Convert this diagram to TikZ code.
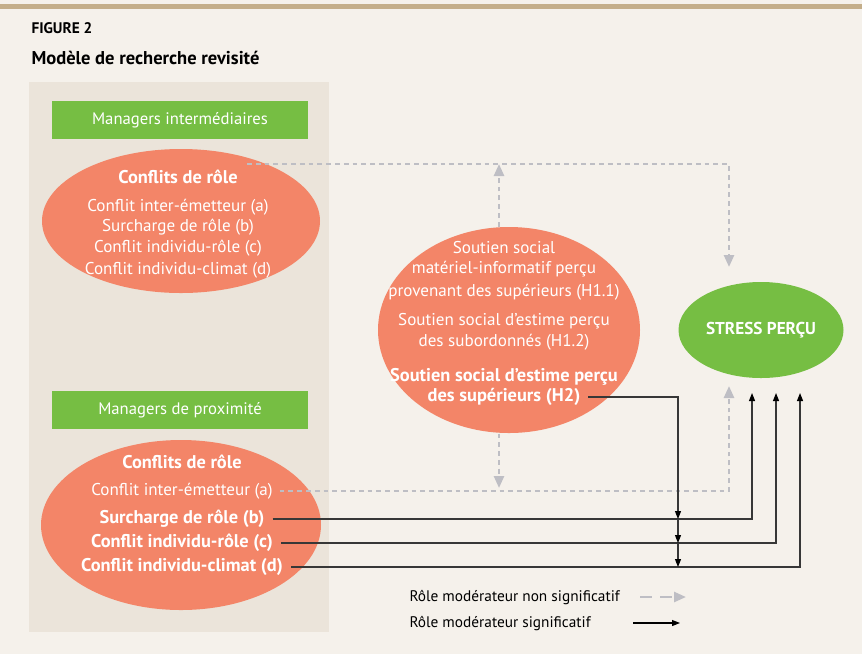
\documentclass[tikz,border=0pt]{standalone}
\usepackage{fontspec}
\setmainfont{PT Sans}
\usetikzlibrary{arrows.meta,shapes.geometric}

\definecolor{creambg}{RGB}{245,241,235}
\definecolor{panelbg}{RGB}{235,228,218}
\definecolor{topbar}{RGB}{196,174,138}
\definecolor{leafgreen}{RGB}{118,190,67}
\definecolor{salmon}{RGB}{243,133,104}
\definecolor{dashgray}{RGB}{190,190,196}
\definecolor{darkline}{RGB}{55,55,55}

\tikzset{every picture/.style={line width=0.75pt}}
\tikzset{
  txtw/.style={text=white, inner sep=0.75pt, font=\fontsize{12.8}{14}\selectfont},
  txtb/.style={text=white, inner sep=0.75pt, font=\fontsize{13.8}{15}\selectfont\bfseries},
  txtk/.style={text=black, inner sep=0.75pt, font=\fontsize{11.5}{13}\selectfont},
  blob/.style={ellipse, fill=salmon, inner sep=0pt},
  greenbox/.style={rectangle, fill=leafgreen, inner sep=0pt, minimum width=192pt, minimum height=28.5pt},
  nsline/.style={draw=dashgray, line width=1.9pt, dash pattern=on 3.6pt off 3pt,
    -{Triangle[length=9pt,width=7.5pt]}},
  sigline/.style={draw=darkline, line width=0.8pt, -{Triangle[length=6pt,width=4.5pt,color=black]}},
}

\begin{document}
\begin{tikzpicture}[x=0.75pt,y=0.75pt,yscale=-1,xscale=1]
\useasboundingbox (0,0) rectangle (862,654);

%Background
\fill[creambg] (0,0) rectangle (862,654);
\fill[topbar] (0,4) rectangle (862,9);
%Left panel
\fill[panelbg] (29,82) rectangle (329,632);

% Text Node
\draw (30,28) node [anchor=west][inner sep=0.75pt] (fig) {\fontsize{11.5}{13}\selectfont\bfseries FIGURE 2};
% Text Node
\draw (30,58) node [anchor=west][inner sep=0.75pt] (ttl) {\fontsize{13.9}{16}\selectfont\bfseries Modèle de recherche revisité};

%Shape: Rectangle [managers intermediaires]
\draw (180,120) node [greenbox] (mgi) {};
\draw (mgi) node [txtw, font=\fontsize{12.5}{14}\selectfont] {Managers intermédiaires};
%Shape: Rectangle [managers de proximite]
\draw (180,410) node [greenbox] (mgp) {};
\draw (mgp) node [txtw, font=\fontsize{12.5}{14}\selectfont] {Managers de proximité};

%Shape: Ellipse [conflits intermediaires]
\draw (181,221) node [blob, minimum width=208.5pt, minimum height=108pt] (ci) {};
%Shape: Ellipse [conflits proximite]
\draw (181,525) node [blob, minimum width=210pt, minimum height=127.5pt] (cp) {};
%Shape: Ellipse [soutien social]
\draw (509,330) node [blob, minimum width=196.5pt, minimum height=154.5pt] (ss) {};
%Shape: Ellipse [stress]
\draw (761,330) node [ellipse, fill=leafgreen, inner sep=0pt, minimum width=123.75pt, minimum height=72pt] (st) {};

% Text Node
\draw (178,177) node [txtb] (ci0) {Conflits de rôle};
\draw (178,207) node [txtw] (ci1) {Conflit inter-émetteur (a)};
\draw (178,227) node [txtw] (ci2) {Surcharge de rôle (b)};
\draw (178,248) node [txtw] (ci3) {Conflit individu-rôle (c)};
\draw (178,270) node [txtw] (ci4) {Conflit individu-climat (d)};

% Text Node
\draw (182,462) node [txtb] (cp0) {Conflits de rôle};
\draw (182,491) node [txtw] (cpa) {Conflit inter-émetteur (a)};
\draw (182,519) node [txtb] (cpb) {Surcharge de rôle (b)};
\draw (182,543) node [txtb] (cpc) {Conflit individu-rôle (c)};
\draw (182,567) node [txtb] (cpd) {Conflit individu-climat (d)};

% Text Node
\draw (504,248) node [txtw] (ss1) {Soutien social};
\draw (504,269) node [txtw] (ss2) {matériel-informatif perçu};
\draw (504,292) node [txtw] (ss3) {provenant des supérieurs (H1.1)};
\draw (504,321) node [txtw] (ss4) {Soutien social d’estime perçu};
\draw (504,342) node [txtw] (ss5) {des subordonnés (H1.2)};
\draw (504,377) node [txtb] (ss6) {Soutien social d’estime perçu};
\draw (504,397) node [txtb] (ss7) {des supérieurs (H2)};

% Text Node
\draw (st) node [txtb, font=\fontsize{12.9}{14}\selectfont\bfseries] (st0) {STRESS PERÇU};

%Coordinates for arrow ends
\coordinate (topstart) at (247,164);
\coordinate (upend) at (499,164);
\coordinate (dnend) at (499,488);
\coordinate (sgA) at (729,267);
\coordinate (sga) at (729,386);
\coordinate (sgb) at (752,393);
\coordinate (sgc) at (776,393);
\coordinate (sgd) at (800,393);
\coordinate (jb) at (678,519);
\coordinate (jc) at (678,543);
\coordinate (jd) at (678,567);

%Non significant (dashed)
\draw [nsline] (topstart) -| (sgA);
\draw [nsline] (ss.north -| upend) -- (upend);
\draw [nsline] (ss.south -| dnend) -- (dnend);
\draw [nsline] ([xshift=4pt]cpa.east) -| (sga);

%Significant (solid)
\draw [sigline] ([xshift=5pt]cpb.east) -| (sgb);
\draw [sigline] ([xshift=5pt]cpc.east) -| (sgc);
\draw [sigline] ([xshift=5pt]cpd.east) -| (sgd);
\draw [sigline] ([xshift=5pt]ss7.east) -| (jb);
\draw [sigline] (jb) -- (jc);
\draw [sigline] (jc) -- (jd);

%Legend
\draw (408,597) node [txtk, anchor=west] (lg1) {Rôle modérateur non significatif};
\draw (408,623) node [txtk, anchor=west] (lg2) {Rôle modérateur significatif};
\coordinate (lg1a) at (640,597);
\coordinate (lg1b) at (686,597);
\coordinate (lg2a) at (633,623);
\coordinate (lg2b) at (680,623);
\draw [nsline, dash pattern=on 9pt off 6pt] (lg1a) -- (lg1b);
\draw [sigline, draw=black] (lg2a) -- (lg2b);

\end{tikzpicture}
\end{document}
